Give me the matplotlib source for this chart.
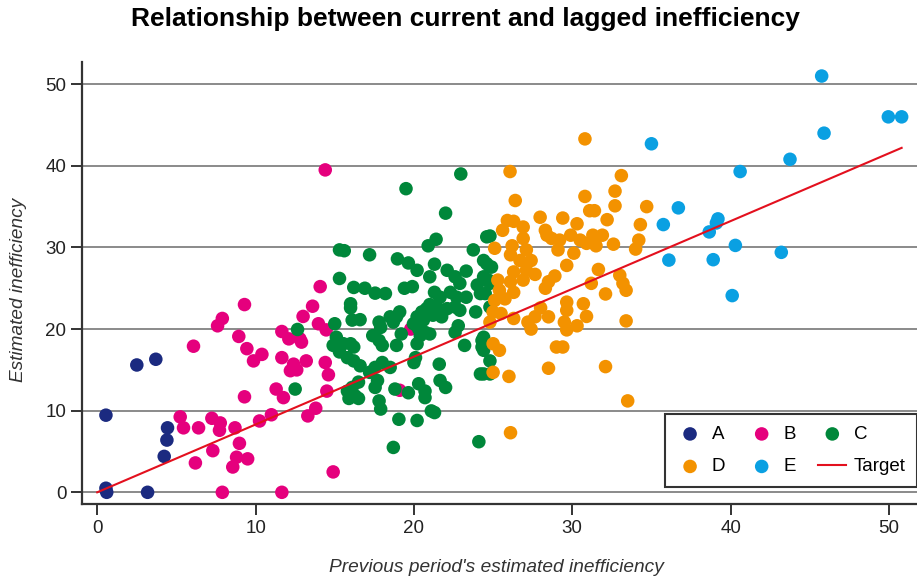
import matplotlib
matplotlib.use("Agg")
import matplotlib.pyplot as plt

plt.rcParams['font.family'] = ['Liberation Sans', 'DejaVu Sans']

# points: (previous period, current period)
group_a = [(0.55, 9.45), (0.55, 0.5), (0.6, 0.0), (2.5, 15.6), (3.7, 16.3),
           (3.18, 0.0), (4.44, 7.9), (4.4, 6.4), (4.23, 4.4)]

group_b = [(14.4, 39.5), (14.08, 25.2), (9.3, 23.0), (13.6, 22.8), (7.9, 21.3),
           (7.6, 20.4), (13.0, 21.55), (13.97, 20.65), (14.46, 19.9), (11.66, 19.7),
           (8.94, 19.1), (12.1, 18.8), (12.8, 18.8), (12.9, 18.4), (6.08, 17.9),
           (9.45, 17.6), (10.4, 16.9), (9.87, 16.1), (11.66, 16.5), (12.4, 15.7),
           (12.6, 15.0), (12.2, 14.9), (13.2, 16.1), (14.4, 15.9), (14.6, 14.4),
           (11.3, 12.65), (11.76, 11.6), (14.5, 12.4), (9.3, 11.7), (13.8, 10.3),
           (13.3, 9.36), (11.0, 9.5), (10.25, 8.74), (5.24, 9.24), (5.45, 7.9),
           (6.4, 7.9), (7.24, 9.07), (7.77, 8.5), (7.72, 7.6), (8.7, 7.9),
           (8.98, 6.0), (7.3, 5.1), (8.8, 4.3), (8.56, 3.1), (9.5, 4.1),
           (6.2, 3.6), (14.9, 2.5), (7.9, 0.0), (11.66, 0.0), (19.8, 20.0),
           (19.1, 12.5)]

group_c = [(22.96, 39.0), (19.5, 37.2), (22.0, 34.2), (24.6, 31.3), (24.8, 31.4),
           (21.4, 31.0), (20.9, 30.2), (15.3, 29.7), (15.6, 29.6), (17.2, 29.1),
           (23.75, 29.7), (18.96, 28.6), (19.65, 28.1), (20.2, 27.2), (21.3, 27.95),
           (22.1, 27.2), (23.3, 27.1), (24.4, 28.4), (24.8, 27.6), (21.0, 26.4),
           (22.6, 26.4), (22.9, 25.6), (24.0, 25.4), (24.7, 26.0), (15.3, 26.2),
           (16.2, 25.1), (16.9, 25.0), (17.55, 24.4), (18.2, 24.35), (19.4, 25.0),
           (19.9, 25.2), (21.3, 24.5), (21.65, 23.9), (22.3, 24.5), (22.7, 23.9),
           (23.3, 23.9), (24.2, 24.35), (16.0, 23.1), (16.0, 22.6), (21.0, 23.0),
           (20.8, 22.5), (21.45, 22.7), (22.1, 22.5), (22.6, 22.7), (22.9, 22.3),
           (20.5, 22.1), (19.1, 22.1), (18.9, 21.5), (20.2, 21.5), (20.6, 21.1),
           (21.2, 21.7), (21.75, 21.5), (23.9, 22.1), (16.1, 21.1), (16.6, 21.15),
           (18.5, 21.5), (18.7, 20.85), (17.8, 20.85), (17.9, 20.2), (15.0, 20.65),
           (19.97, 20.65), (20.3, 20.0), (20.7, 19.6), (21.0, 19.4), (22.8, 20.4),
           (22.6, 19.6), (19.2, 19.4), (17.4, 19.2), (17.8, 18.6), (18.0, 18.0),
           (15.1, 19.0), (14.9, 18.0), (15.55, 18.2), (16.0, 18.2), (16.2, 17.8),
           (20.4, 19.2), (20.2, 18.2), (18.9, 18.0), (23.2, 18.0), (24.3, 18.6),
           (24.4, 17.4), (15.3, 17.2), (15.8, 16.5), (16.2, 16.1), (16.6, 15.5),
           (20.1, 16.5), (20.0, 15.9), (18.0, 15.9), (17.55, 15.3), (17.2, 14.7),
           (18.5, 15.3), (21.6, 15.7), (24.8, 16.1), (24.2, 14.5), (17.7, 13.7),
           (17.55, 12.85), (16.5, 13.5), (16.1, 12.85), (15.8, 12.4), (16.3, 11.8),
           (16.5, 11.5), (15.9, 11.5), (18.8, 12.65), (19.65, 12.2), (20.3, 13.3),
           (20.7, 12.4), (20.7, 11.6), (21.65, 13.7), (22.0, 12.85), (17.8, 11.2),
           (17.9, 10.2), (21.1, 9.97), (21.3, 9.77), (19.05, 8.95), (20.2, 8.8),
           (18.7, 5.5), (24.1, 6.2), (24.6, 28.0), (24.9, 27.6), (24.4, 26.4),
           (24.8, 25.6), (24.5, 24.35), (24.8, 22.7), (24.4, 19.0), (24.3, 17.8),
           (24.4, 14.5), (24.8, 14.5), (12.65, 19.95), (12.5, 12.65)]

group_d = [(34.7, 35.0), (34.3, 32.8), (34.2, 30.9), (34.0, 29.8), (30.8, 43.3),
           (26.07, 39.3), (33.1, 38.8), (32.7, 36.9), (26.4, 35.75), (30.8, 36.25),
           (32.7, 35.1), (31.1, 34.5), (31.4, 34.5), (27.97, 33.7), (29.4, 33.6),
           (30.3, 32.9), (32.2, 33.4), (25.9, 33.3), (26.3, 33.2), (25.6, 32.1),
           (26.9, 32.5), (28.3, 32.1), (26.9, 31.1), (28.4, 31.5), (28.7, 31.1),
           (29.2, 30.9), (29.9, 31.5), (30.5, 30.9), (31.3, 31.5), (31.9, 31.5),
           (30.9, 30.5), (31.5, 30.2), (32.6, 30.4), (25.1, 29.9), (26.2, 30.2),
           (27.1, 29.7), (29.1, 29.7), (30.1, 29.3), (26.1, 29.1), (26.7, 28.4),
           (27.4, 28.4), (29.65, 27.8), (26.3, 27.0), (27.1, 27.2), (27.65, 26.7),
           (31.65, 27.3), (25.3, 26.0), (26.1, 25.8), (26.9, 26.0), (28.9, 26.5),
           (28.5, 25.8), (31.2, 25.6), (33.0, 26.6), (33.2, 25.6), (33.4, 24.75),
           (25.4, 24.75), (26.3, 24.5), (28.3, 25.0), (25.1, 23.5), (25.75, 23.7),
           (32.1, 24.3), (29.65, 23.3), (30.7, 23.1), (28.0, 22.6), (29.65, 22.3),
           (25.0, 22.1), (25.5, 21.9), (30.9, 21.55), (26.3, 21.3), (27.2, 20.85),
           (27.65, 21.5), (28.5, 21.5), (27.4, 20.0), (29.5, 20.85), (30.3, 20.4),
           (29.65, 19.9), (33.4, 21.0), (24.8, 20.85), (25.0, 18.2), (25.4, 17.4),
           (29.0, 17.8), (29.4, 17.8), (28.5, 15.2), (32.1, 15.4), (25.0, 14.7),
           (26.0, 14.2), (33.5, 11.2), (26.1, 7.3)]

group_e = [(45.75, 51.0), (49.96, 46.0), (50.8, 46.0), (45.9, 44.0), (35.0, 42.7),
           (43.75, 40.8), (40.6, 39.3), (36.7, 34.85), (35.75, 32.8), (39.2, 33.5),
           (39.1, 33.0), (38.65, 31.9), (40.3, 30.25), (36.1, 28.45), (38.9, 28.5),
           (43.2, 29.4), (40.1, 24.1)]

groups = ['A', 'B', 'C', 'D', 'E']
group_points = [group_a, group_b, group_c, group_d, group_e]
colors = ['#1b2a80', '#e5007d', '#00873a', '#f39200', '#0aa0e2']

target_x = [0, 50.8]
target_y = [0, 42.2]

fig = plt.figure(figsize=(9.17, 5.81), dpi=100, facecolor='white')
ax = fig.add_axes([0.0891, 0.132, 0.9109, 0.762])

handles = {}
for name, pts, col in zip(groups, group_points, colors):
    xs = [p[0] for p in pts]
    ys = [p[1] for p in pts]
    handles[name] = ax.scatter(xs, ys, s=95, color=col, edgecolors='none',
                               label=name, zorder=3)

handles['Target'], = ax.plot(target_x, target_y, color='#e3101e', linewidth=1.5,
                             label='Target', zorder=4)

ax.set_xlim(-0.98, 51.77)
ax.set_ylim(-1.47, 52.77)
ax.set_xticks(range(0, 51, 10))
ax.set_yticks(range(0, 51, 10))
ax.grid(axis='y', color='#8a8a8a', linewidth=1.4, zorder=0)
ax.set_axisbelow(True)

for side in ['top', 'right']:
    ax.spines[side].set_visible(False)
for side in ['left', 'bottom']:
    ax.spines[side].set_color('#333333')
    ax.spines[side].set_linewidth(1.6)
ax.tick_params(axis='both', length=8, width=1.4, color='#333333',
               labelsize=13.5, labelcolor='#222222', pad=3)

fig.text(0.5419, 1 - 568 / 581, "Previous period's estimated inefficiency",
         fontsize=13.8, style='italic', color='#333333', ha='center', va='center')
fig.text(19 / 917, 1 - 290 / 581, 'Estimated inefficiency', fontsize=13.7,
         style='italic', color='#333333', rotation=90, ha='center', va='center')
fig.text(0.508, 1 - 19 / 581, 'Relationship between current and lagged inefficiency',
         fontsize=19, fontweight='bold', ha='center', va='center')

# ncol=3 fills by column, so order the handles to read row-wise
order = ['A', 'D', 'B', 'E', 'C', 'Target']
leg = ax.legend([handles[k] for k in order], order, ncol=3, loc='lower right',
                bbox_to_anchor=(1.0, 0.040), borderaxespad=0, fontsize=13.5,
                frameon=True, fancybox=False, edgecolor='black',
                handlelength=1.5, columnspacing=1.2, handletextpad=0.4,
                borderpad=0.6, labelspacing=0.82)
leg.get_frame().set_linewidth(1.5)

fig.savefig('out.png', dpi=100, facecolor='white')
